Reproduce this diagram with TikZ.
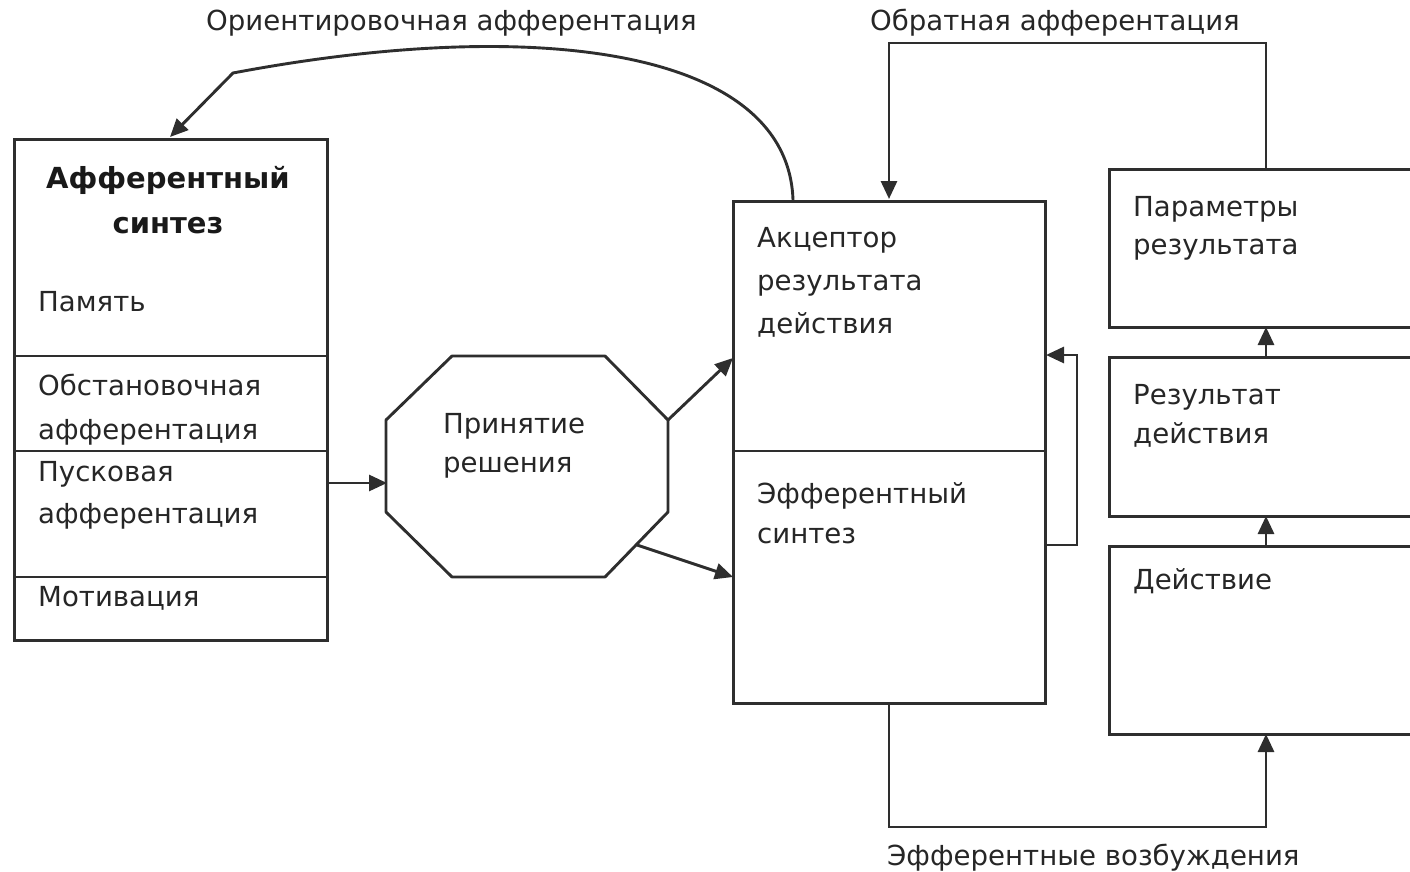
\documentclass[tikz,border=0pt]{standalone}
\usepackage{fontspec}
\setmainfont{DejaVu Sans}
\usetikzlibrary{arrows.meta}
\begin{document}
\begin{tikzpicture}[x=1pt,y=-1pt,
  ln/.style={line width=2.9pt, draw=black!82},
  box/.style={ln, rectangle, anchor=north west, inner sep=0pt},
  arr/.style={ln, -{Triangle[length=18pt,width=16pt]}},
  txt/.style={anchor=base west, inner sep=0pt, font=\fontsize{27.6}{32}\selectfont, text=black!85},
  ttl/.style={anchor=base, inner sep=0pt, font=\fontsize{29}{34}\selectfont\bfseries, text=black!90}]
\useasboundingbox (0,0) rectangle (1410,872);
\begin{scope}
\clip (0,0) rectangle (1410,872);
% left box
\node[box, minimum width=313pt, minimum height=501pt] (as) at (13,138) {};
\draw[ln] (13,356) -- (326,356);
\draw[ln] (13,451) -- (326,451);
\draw[ln] (13,577) -- (326,577);
\node[ttl] (t1) at (168,188) {Афферентный};
\node[ttl] (t2) at (168,233) {синтез};
\node[txt] (t3) at (38,311) {Память};
\node[txt] (t4) at (38,395) {Обстановочная};
\node[txt] (t5) at (38,439) {афферентация};
\node[txt] (t6) at (38,481) {Пусковая};
\node[txt] (t7) at (38,523) {афферентация};
\node[txt] (t8) at (38,606) {Мотивация};
% decision octagon
\coordinate (o1) at (452,356); \coordinate (o2) at (605,356);
\coordinate (o3) at (668,420); \coordinate (o4) at (668,512);
\coordinate (o5) at (605,577); \coordinate (o6) at (452,577);
\coordinate (o7) at (386,512); \coordinate (o8) at (386,420);
\draw[ln, line join=round] (o1) -- (o2) -- (o3) -- (o4) -- (o5) -- (o6) -- (o7) -- (o8) -- cycle;
\node[txt] (d1) at (443,433) {Принятие};
\node[txt] (d2) at (443,472) {решения};
% middle box
\node[box, minimum width=312pt, minimum height=502pt] (ar) at (732,200) {};
\draw[ln] (732,451) -- (1044,451);
\node[txt] (m1) at (757,247) {Акцептор};
\node[txt] (m2) at (757,290) {результата};
\node[txt] (m3) at (757,333) {действия};
\node[txt] (m4) at (757,503) {Эфферентный};
\node[txt] (m5) at (757,543) {синтез};
% right boxes
\node[box, minimum width=400pt, minimum height=158pt] (par) at (1108,168) {};
\node[box, minimum width=400pt, minimum height=159pt] (res) at (1108,356) {};
\node[box, minimum width=400pt, minimum height=188pt] (act) at (1108,545) {};
\node[txt] (r1) at (1133,216) {Параметры};
\node[txt] (r2) at (1133,254) {результата};
\node[txt] (r3) at (1133,404) {Результат};
\node[txt] (r4) at (1133,443) {действия};
\node[txt] (r5) at (1133,589) {Действие};
% connector end points
\coordinate (asOut) at (326,483);
\coordinate (decIn) at (387,483);
\coordinate (decUp) at (668,420);
\coordinate (arIn1) at (733,358);
\coordinate (decDn) at (637,545);
\coordinate (arIn2) at (733,577);
\coordinate (efOut) at (1044,545);
\coordinate (fbTop) at (1077,355);
\coordinate (arIn3) at (1046,355);
\coordinate (resIn) at (1266,327);
\coordinate (resOut) at (1266,356);
\coordinate (actOut) at (1266,545);
\coordinate (actIn) at (1266,516);
\coordinate (arBot) at (889,702);
\coordinate (bRight) at (1266,827);
\coordinate (actBot) at (1266,734);
\coordinate (parTop) at (1266,168);
\coordinate (tLeft) at (889,43);
\coordinate (arTop) at (889,199);
\coordinate (arTop2) at (793,200);
\coordinate (kink) at (233,73);
\coordinate (asTop) at (170,137);
% connectors
\draw[arr] (asOut) -- (decIn);
\draw[arr] (decUp) -- (arIn1);
\draw[arr] (decDn) -- (arIn2);
\draw[arr] (efOut) -| (fbTop) -- (arIn3);
\draw[arr] (resOut) -- (resIn);
\draw[arr] (actOut) -- (actIn);
\draw[arr] (arBot) |- (bRight) -- (actBot);
\draw[arr] (parTop) |- (tLeft) -- (arTop);
\draw[arr] (arTop2) .. controls (788,50) and (540,15) .. (kink) -- (asTop);
% labels
\node[txt] (l1) at (206,31) {Ориентировочная афферентация};
\node[txt] (l2) at (870,31) {Обратная афферентация};
\node[txt] (l3) at (887,865) {Эфферентные возбуждения};
\end{scope}
\end{tikzpicture}
\end{document}
